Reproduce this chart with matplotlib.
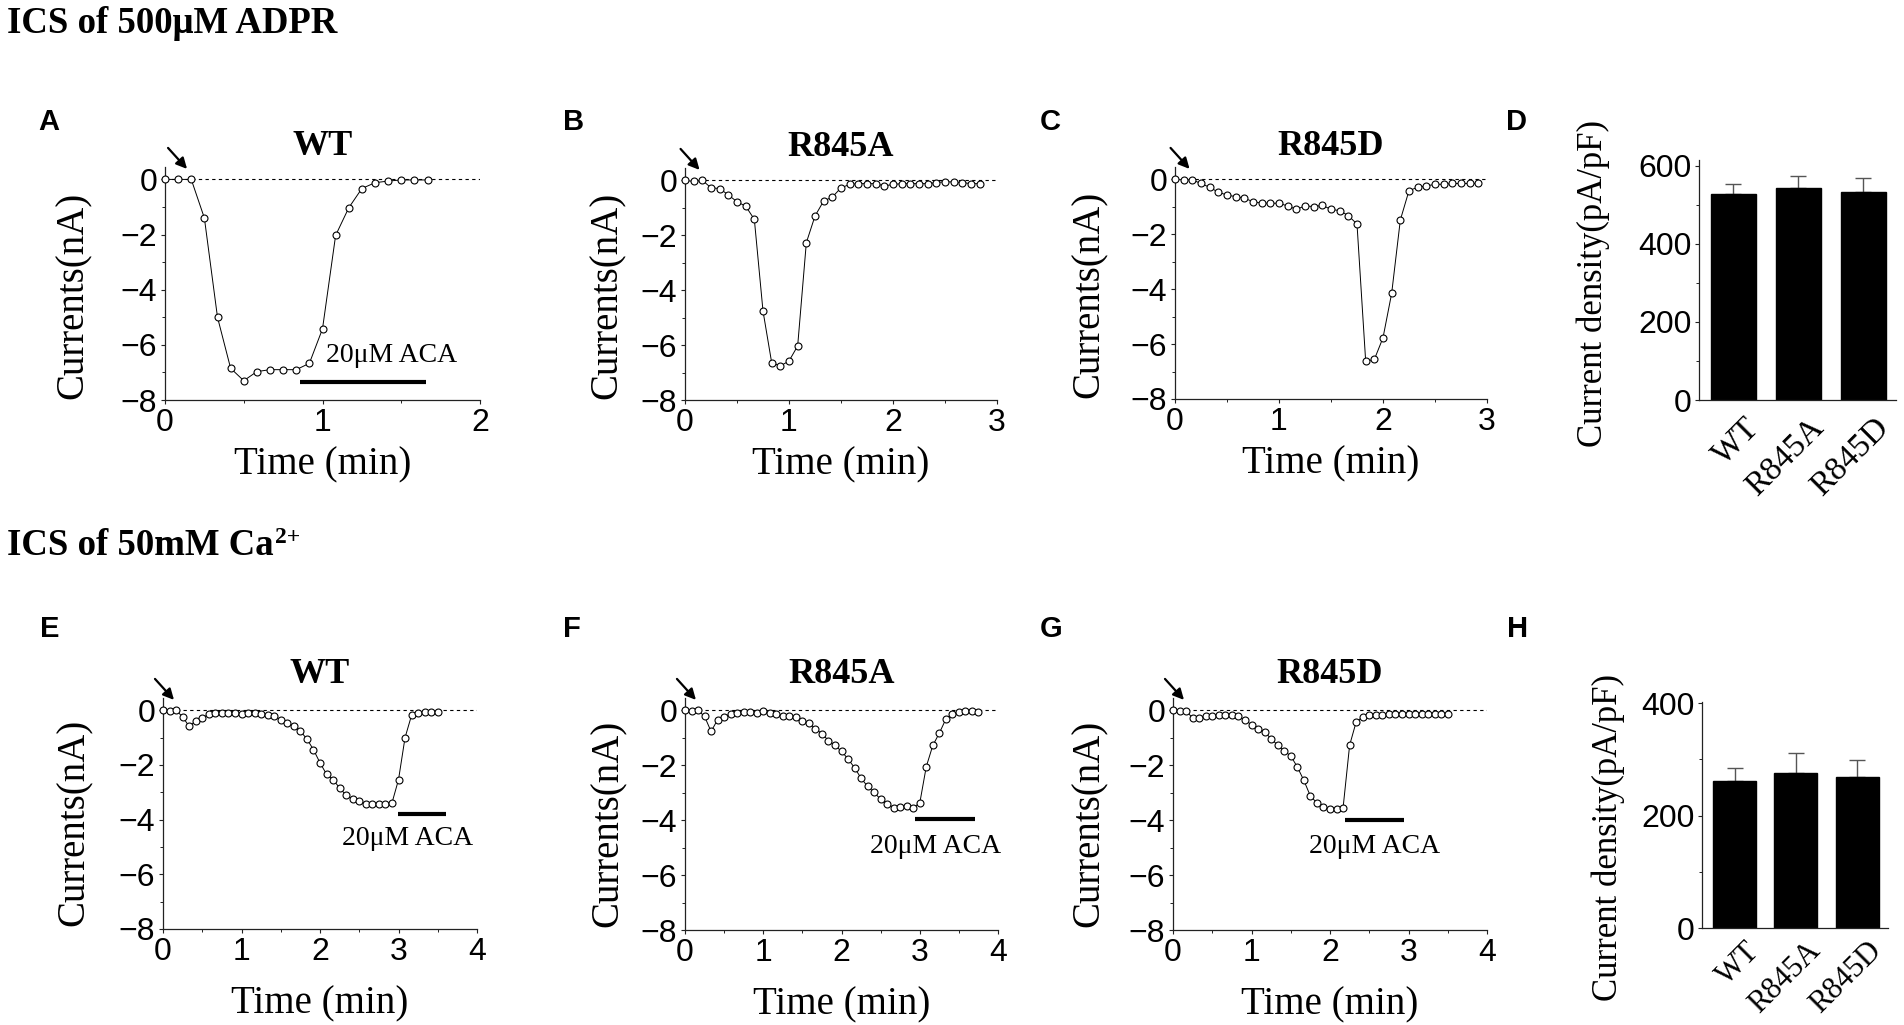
import numpy as np
import matplotlib
matplotlib.use('Agg')
import matplotlib.pyplot as plt
import matplotlib.transforms as mtransforms
from matplotlib.ticker import MultipleLocator

SANS = 'Liberation Sans'
SERIF = 'Liberation Serif'
plt.rcParams['font.family'] = SANS

W, H = 1904, 1025
dt = 5 / 60  # one point every 5 s

## Whole-cell currents (nA), ICS 500 uM ADPR
adpr_wt = [0, 0, 0, -1.4, -5.0, -6.85, -7.3, -6.97, -6.9, -6.9, -6.9, -6.67, -5.42,
           -2.03, -1.03, -0.33, -0.12, -0.06, -0.02, -0.02, -0.02]
adpr_r845a = [0, -0.04, 0, -0.27, -0.30, -0.53, -0.78, -0.94, -1.42, -4.76, -6.64, -6.76,
              -6.58, -6.03, -2.27, -1.30, -0.75, -0.61, -0.27, -0.15, -0.12, -0.12, -0.12,
              -0.20, -0.15, -0.12, -0.12, -0.12, -0.12, -0.08, -0.05, -0.06, -0.08, -0.12, -0.12]
adpr_r845d = [0, -0.02, -0.02, -0.15, -0.29, -0.47, -0.57, -0.63, -0.69, -0.81, -0.87, -0.87,
              -0.87, -0.97, -1.09, -0.97, -0.99, -0.95, -1.09, -1.14, -1.32, -1.63, -6.62, -6.56,
              -5.77, -4.15, -1.48, -0.41, -0.29, -0.24, -0.18, -0.18, -0.15, -0.15, -0.15, -0.15]

## Whole-cell currents (nA), ICS 50 mM Ca2+
ca_wt = [0, -0.02, 0, -0.24, -0.59, -0.39, -0.27, -0.15, -0.10, -0.10, -0.10, -0.10, -0.15,
         -0.10, -0.10, -0.15, -0.18, -0.22, -0.34, -0.46, -0.59, -0.76, -1.05, -1.44, -1.92,
         -2.34, -2.54, -2.84, -3.11, -3.25, -3.32, -3.42, -3.42, -3.44, -3.44, -3.39, -2.54,
         -1.00, -0.18, -0.10, -0.07, -0.07, -0.07]
ca_r845a = [0, -0.01, 0, -0.22, -0.77, -0.34, -0.24, -0.12, -0.10, -0.06, -0.07, -0.10, -0.04,
            -0.10, -0.15, -0.21, -0.22, -0.24, -0.39, -0.46, -0.67, -0.85, -1.10, -1.28, -1.49,
            -1.77, -2.09, -2.47, -2.77, -2.99, -3.24, -3.40, -3.54, -3.52, -3.49, -3.54, -3.38,
            -2.05, -1.28, -0.83, -0.32, -0.12, -0.06, -0.04, -0.04, -0.07]
ca_r845d = [0, -0.02, -0.02, -0.28, -0.27, -0.21, -0.21, -0.18, -0.18, -0.18, -0.22, -0.36,
            -0.52, -0.67, -0.79, -1.03, -1.27, -1.48, -1.66, -2.06, -2.55, -3.12, -3.37, -3.52,
            -3.60, -3.60, -3.55, -1.27, -0.42, -0.24, -0.18, -0.16, -0.16, -0.13, -0.12, -0.12,
            -0.12, -0.12, -0.12, -0.12, -0.12, -0.12, -0.12]

## ACA application (start, end, bar level)
aca_adpr_wt = (0.86, 1.66, -7.36)
aca_ca_wt = (2.99, 3.60, -3.81)
aca_ca_r845a = (2.94, 3.70, -3.97)
aca_ca_r845d = (2.19, 2.94, -4.0)

## Current density (pA/pF), mean and upper error
groups = ['WT', 'R845A', 'R845D']
dens_adpr = [528, 543, 533]
dens_adpr_err = [26, 32, 35]
dens_ca = [262, 276, 269]
dens_ca_err = [23, 36, 30]


def add_ax(fig, l, r, t, b):
    return fig.add_axes([l / W, 1 - b / H, (r - l) / W, (b - t) / H])


def style(ax):
    for s in ['top', 'right']:
        ax.spines[s].set_visible(False)
    for s in ['left', 'bottom']:
        ax.spines[s].set_linewidth(0.9)
        ax.spines[s].set_color('#222222')
    ax.tick_params(which='major', length=3, width=0.8, direction='out', labelsize=23, pad=2.5,
                   color='#222222')
    ax.tick_params(which='minor', length=2.5, width=0.7, direction='out', color='#222222')


def trace_panel(ax, y, xmax, title, title_pad, xlab_off, ylab_off, ylab_y, aca=None, aca_text=None):
    t = np.arange(len(y)) * dt
    ax.plot([0, xmax], [0, 0], color='k', lw=0.8, ls=(0, (3, 3)), zorder=1)
    ax.plot(t, y, '-o', color='k', lw=0.7, ms=5, mfc='white', mec='k', mew=0.8,
            clip_on=False, zorder=3)
    ax.set_xlim(0, xmax)
    ax.set_ylim(-8, 0.45)
    ax.xaxis.set_major_locator(MultipleLocator(1))
    ax.xaxis.set_minor_locator(MultipleLocator(0.5))
    ax.yaxis.set_major_locator(MultipleLocator(2))
    ax.yaxis.set_minor_locator(MultipleLocator(1))
    style(ax)
    ax.set_title(title, fontfamily=SERIF, fontweight='bold', fontsize=26, pad=title_pad)
    ax.set_xlabel('Time (min)', fontfamily=SERIF, fontsize=28)
    ax.set_ylabel('Currents(nA)', fontfamily=SERIF, fontsize=28)
    bb = ax.get_position()
    ax.xaxis.set_label_coords(0.5, -xlab_off / (bb.height * H))
    ax.yaxis.set_label_coords(-ylab_off / (bb.width * W), ylab_y)
    if aca is not None:
        ax.plot([aca[0], aca[1]], [aca[2], aca[2]], color='k', lw=3, solid_capstyle='butt',
                clip_on=False)
        ax.text(aca_text[0], aca_text[1], '20\u03bcM ACA', fontfamily=SERIF, fontsize=20,
                ha='center', va='center')
    ax.annotate('', xy=(0.14, 0.38), xytext=(-19, 21), textcoords='offset pixels',
                arrowprops=dict(arrowstyle='-|>', color='k', lw=1.6, mutation_scale=16,
                                shrinkA=0, shrinkB=0),
                annotation_clip=False)


def bar_panel(ax, vals, errs, ytop, ymax, ylab_off, ylab_y, lab_size, lab_pad):
    x = np.arange(len(groups))
    ax.errorbar(x, vals, yerr=[np.zeros(len(errs)), errs], fmt='none', ecolor='#555555',
                elinewidth=1.0, capsize=6, capthick=1.0, zorder=1)
    ax.bar(x, vals, width=0.7, color='k', edgecolor='k', zorder=2)
    ax.set_xlim(-0.53, 2.5)
    ax.set_ylim(0, ytop)
    ax.yaxis.set_major_locator(MultipleLocator(200))
    ax.yaxis.set_minor_locator(MultipleLocator(100))
    style(ax)
    ax.set_yticks(np.arange(0, ymax + 1, 200))
    ax.set_xticks(x)
    ax.set_xticklabels(groups, rotation=45, ha='right', va='top', rotation_mode='anchor',
                       fontfamily=SERIF, fontsize=lab_size)
    ax.tick_params(axis='x', length=0, pad=lab_pad)
    shift = mtransforms.ScaledTranslation(10 / 100, 0, ax.figure.dpi_scale_trans)
    for lab in ax.get_xticklabels():
        lab.set_transform(lab.get_transform() + shift)
    ax.set_ylabel('Current density(pA/pF)', fontfamily=SERIF, fontsize=25)
    bb = ax.get_position()
    ax.yaxis.set_label_coords(-ylab_off / (bb.width * W), ylab_y)


fig = plt.figure(figsize=(W / 100, H / 100), dpi=100)

## Row 1: ICS of 500 uM ADPR
axA = add_ax(fig, 165, 480, 167, 400)
trace_panel(axA, adpr_wt, 2, 'WT', 8.6, 46, 73, 0.45, aca_adpr_wt, (1.44, -6.4))
axB = add_ax(fig, 685, 997, 168, 400)
trace_panel(axB, adpr_r845a, 3, 'R845A', 8.6, 46, 59, 0.45)
axC = add_ax(fig, 1175, 1487, 167, 399)
trace_panel(axC, adpr_r845d, 3, 'R845D', 8.6, 46, 67, 0.45)
axD = add_ax(fig, 1699, 1896, 160, 400)
bar_panel(axD, dens_adpr, dens_adpr_err, 615, 600, 89, 0.485, 24, 9)

## Row 2: ICS of 50 mM Ca2+
axE = add_ax(fig, 163, 477, 698, 929)
trace_panel(axE, ca_wt, 4, 'WT', 10.8, 56, 70, 0.46, aca_ca_wt, (3.12, -4.7))
axF = add_ax(fig, 685, 998, 698, 930)
trace_panel(axF, ca_r845a, 4, 'R845A', 10.8, 56, 58, 0.46, aca_ca_r845a, (3.2, -4.95))
axG = add_ax(fig, 1173, 1487, 698, 930)
trace_panel(axG, ca_r845d, 4, 'R845D', 10.8, 56, 65, 0.46, aca_ca_r845d, (2.57, -4.95))
axH = add_ax(fig, 1702, 1888, 702, 928)
bar_panel(axH, dens_ca, dens_ca_err, 402, 400, 77, 0.40, 22, 6)

## Section headers and panel letters
fig.text(7 / W, 1 - 33 / H, 'ICS of 500\u03bcM ADPR', fontfamily=SERIF, fontweight='bold',
         fontsize=26.5, va='baseline')
hdr2 = fig.text(7 / W, 1 - 555 / H, 'ICS of 50mM Ca', fontfamily=SERIF,
                fontweight='bold', fontsize=26.5, va='baseline')
fig.canvas.draw()
hb = hdr2.get_window_extent()
fig.text((hb.x1 + 1) / W, 1 - 543 / H, '2+', fontfamily=SERIF, fontweight='bold',
         fontsize=17, va='baseline')

letters = [('A', 38, 130), ('B', 563, 130), ('C', 1040, 130), ('D', 1506, 130),
           ('E', 40, 637), ('F', 563, 637), ('G', 1040, 637), ('H', 1507, 637)]
for lab, lx, ly in letters:
    fig.text(lx / W, 1 - ly / H, lab, fontfamily=SANS, fontweight='bold', fontsize=21,
             va='baseline')

fig.savefig('out.png', dpi=100)
